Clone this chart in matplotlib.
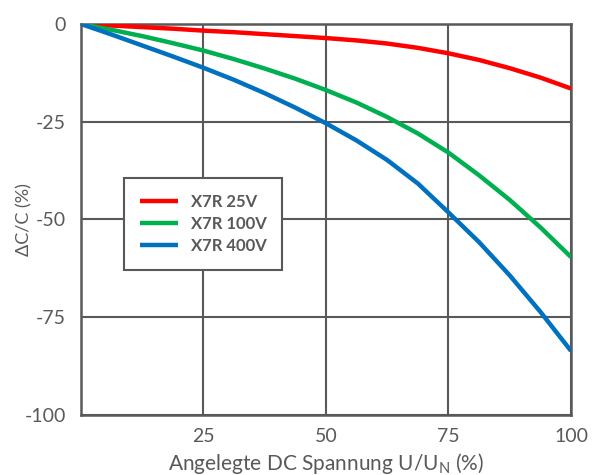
import matplotlib
matplotlib.use("Agg")
from matplotlib import pyplot as plt

# values
voltage = [0, 6.25, 12.5, 18.75, 25, 31.25, 37.5, 43.75, 50,
           56.25, 62.5, 68.75, 75, 81.25, 87.5, 93.75, 100]
x7r_25v = [0, -0.4, -0.8, -1.2, -1.7, -2.1, -2.6, -3.1, -3.6,
           -4.2, -5.0, -6.1, -7.5, -9.2, -11.3, -13.7, -16.5]
x7r_100v = [0, -1.5, -3.1, -4.9, -6.8, -9.0, -11.4, -14.0, -16.9,
            -20.1, -23.8, -28.0, -32.9, -38.7, -45.0, -52.0, -59.6]
x7r_400v = [0, -2.7, -5.5, -8.3, -11.2, -14.3, -17.7, -21.4, -25.4,
            -29.8, -34.8, -40.8, -48.2, -55.8, -64.3, -73.6, -83.6]

series_labels = ['X7R 25V', 'X7R 100V', 'X7R 400V']
series_colors = ['#FF0000', '#00B050', '#0070C0']

x_ticks = [25, 50, 75, 100]
y_ticks = [0, -25, -50, -75, -100]

GREY = '#595959'

plt.rcParams['font.family'] = ['Lato', 'DejaVu Sans']

fig = plt.figure(figsize=(5.92, 4.75), dpi=100)
ax = fig.add_axes([0.1368, 0.1263, 0.8277, 0.8232])

for ys, lab, col in zip([x7r_25v, x7r_100v, x7r_400v], series_labels, series_colors):
    ax.plot(voltage, ys, color=col, linewidth=3.2, label=lab,
            solid_capstyle='butt', solid_joinstyle='round', zorder=3)

ax.set_xlim(0, 100)
ax.set_ylim(-100, 0)
ax.set_xticks(x_ticks)
ax.set_yticks(y_ticks)
ax.set_xticklabels([str(v) for v in x_ticks])
ax.set_yticklabels([str(v) for v in y_ticks])
ax.tick_params(axis='both', length=0, labelsize=14, colors=GREY)
ax.tick_params(axis='x', pad=9)
ax.tick_params(axis='y', pad=11)

ax.grid(True, color=GREY, linewidth=1.5, zorder=1)
for sp in ax.spines.values():
    sp.set_color(GREY)
    sp.set_linewidth(1.8)

ax.set_xlabel('Angelegte DC Spannung U/U$_\\mathregular{N}$ (%)', fontsize=15, color=GREY)
ax.xaxis.set_label_coords(0.5, -0.092)
ax.set_ylabel('ΔC/C (%)', fontsize=13, color=GREY)
ax.yaxis.set_label_coords(-0.1, 0.5)

leg = ax.legend(loc='upper left', bbox_to_anchor=(0.071, 0.628), frameon=True, fancybox=False,
                handlelength=2.3, handletextpad=0.75, borderpad=0.95, labelspacing=0.38,
                prop={'weight': 'bold', 'size': 12})
leg.get_frame().set_edgecolor(GREY)
leg.get_frame().set_linewidth(1.5)
leg.get_frame().set_alpha(1)
for t in leg.get_texts():
    t.set_color(GREY)
leg.set_zorder(5)

plt.savefig('out.png', dpi=100)
